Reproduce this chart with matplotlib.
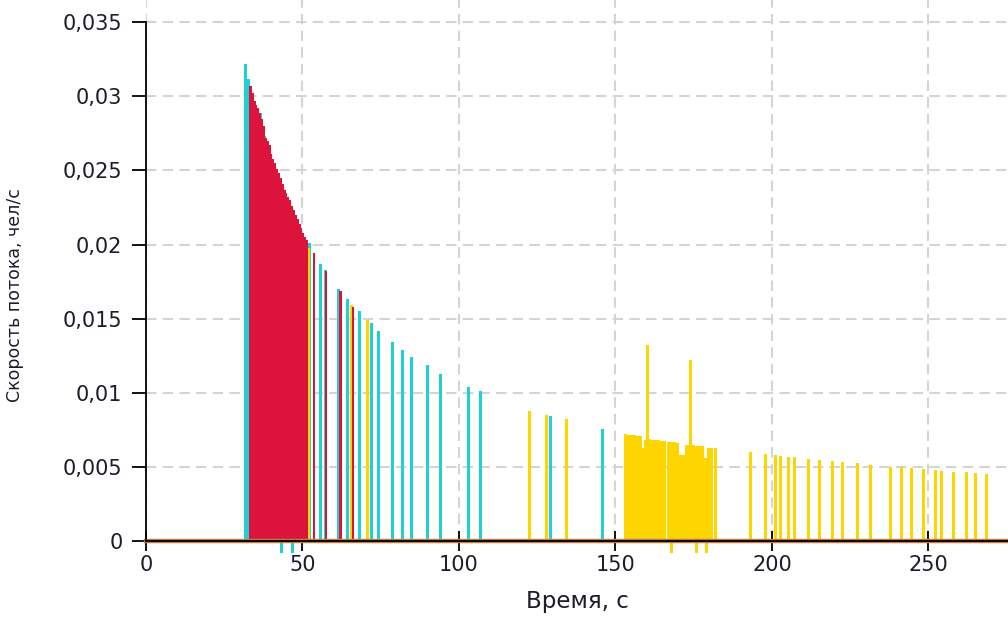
import matplotlib
matplotlib.use("Agg")
import matplotlib.pyplot as plt
from matplotlib.ticker import FixedLocator

# ---------------- data ----------------
cyan_t = [31.9, 32.8, 34.1, 36.6, 37.9, 39.9, 43.3, 46.8, 52.3, 55.6, 57.2, 61.6, 64.3,
          68.1, 72.0, 74.3, 78.7, 81.8, 84.9, 89.8, 94.2, 103.0, 106.8, 129.1, 145.8]
cyan_v = [0.0322, 0.0312, 0.0298, 0.0289, 0.0273, 0.0261, -0.0008, -0.0008, 0.0201, 0.0187,
          0.0183, 0.0170, 0.0163, 0.0155, 0.0147, 0.0142, 0.0134, 0.0129, 0.0124, 0.0119,
          0.0113, 0.0104, 0.0101, 0.0084, 0.00755]

red_t = [33.4, 34.0, 34.6, 35.2, 35.8, 36.4, 37.0, 37.6, 38.2, 38.8, 39.4, 40.0, 40.6,
         41.2, 41.8, 42.4, 43.0, 43.6, 44.2, 44.8, 45.4, 46.0, 46.6, 47.2, 47.8, 48.4,
         49.0, 49.6, 50.2, 50.8, 51.3, 53.7, 57.5, 62.1, 66.1]
red_v = [0.0307, 0.0302, 0.0297, 0.0294, 0.0292, 0.0289, 0.0285, 0.0280, 0.0272, 0.0270,
         0.0267, 0.0261, 0.0258, 0.0255, 0.0251, 0.0248, 0.0245, 0.0241, 0.0237, 0.0235,
         0.0232, 0.0230, 0.0226, 0.0223, 0.0220, 0.0217, 0.0214, 0.0211, 0.0208, 0.0205,
         0.0203, 0.0194, 0.0182, 0.0169, 0.0158]

yellow_t = [35.1, 51.8, 65.8, 70.9, 122.4, 128.0, 134.2,
            153.1, 154.1, 155.1, 156.1, 157.1, 158.1, 158.9, 159.6, 160.2, 160.9, 161.8,
            162.8, 163.8, 164.8, 165.8, 166.8, 167.8, 168.8, 169.8, 170.8, 171.8, 172.8,
            173.6, 174.1, 174.8, 175.8, 176.8, 177.8, 178.8, 179.8, 180.8, 181.8,
            167.8, 175.9, 179.2,
            193.1, 198.0, 201.0, 202.7, 205.2, 207.3, 211.8, 215.2, 219.3, 222.6, 227.4,
            231.6, 237.8, 241.4, 244.6, 248.5, 252.2, 254.1, 258.1, 262.1, 265.1, 268.5]
yellow_v = [0.0294, 0.0198, 0.0159, 0.0149, 0.0088, 0.0085, 0.0082,
            0.0072, 0.00718, 0.00716, 0.00713, 0.0071, 0.0071, 0.0063, 0.0068, 0.0132,
            0.00687, 0.00684, 0.00681, 0.00679, 0.00676, 0.00674, 0.00671, 0.00669,
            0.00666, 0.00664, 0.00581, 0.00581, 0.0065, 0.00648, 0.0122, 0.00646,
            0.00644, 0.00642, 0.0064, 0.00563, 0.0063, 0.00628, 0.00626,
            -0.0008, -0.0008, -0.0008,
            0.0060, 0.00587, 0.0058, 0.00576, 0.00567, 0.00564, 0.00553, 0.00546,
            0.00539, 0.00532, 0.00523, 0.00514, 0.00502, 0.00498, 0.00491, 0.00484,
            0.00477, 0.00475, 0.00468, 0.00463, 0.00459, 0.00454]

x_ticks = [0, 50, 100, 150, 200, 250]
y_ticks = [0, 0.005, 0.01, 0.015, 0.02, 0.025, 0.03, 0.035]
y_tick_labels = ["0", "0,005", "0,01", "0,015", "0,02", "0,025", "0,03", "0,035"]
x_label = "Время, с"
y_label = "Скорость потока, чел/с"

# ---------------- figure ----------------
plt.rcParams["font.family"] = ["DejaVu Sans"]
fig = plt.figure(figsize=(10.08, 6.17), dpi=100)
ax = fig.add_axes([146 / 1008, 76 / 617, 1 - 146 / 1008, 541 / 617])

CYAN = "#1fd1d6"
RED = "#dc143c"
GOLD = "#ffd500"

ax.bar(cyan_t, cyan_v, width=0.95, color=CYAN, linewidth=0, zorder=2, clip_on=False)
ax.bar(yellow_t, yellow_v, width=0.95, color=GOLD, linewidth=0, zorder=3, clip_on=False)
ax.bar(red_t, red_v, width=0.8, color=RED, linewidth=0, zorder=4, clip_on=False)

ax.axhline(0, color="#c07a45", lw=3.2, zorder=5, clip_on=False)

ax.set_xlim(0, 275.4)
ax.set_ylim(0, 0.0365)

ax.xaxis.set_major_locator(FixedLocator(x_ticks))
ax.yaxis.set_major_locator(FixedLocator(y_ticks))
ax.set_yticklabels(y_tick_labels)

ax.grid(True, color="#d4d4d4", linestyle=(0, (5, 3)), linewidth=1.5)
ax.set_axisbelow(True)

for s in ["top", "right"]:
    ax.spines[s].set_visible(False)
ax.spines["left"].set_bounds(0, 0.035)
ax.spines["left"].set_linewidth(1.3)
ax.spines["bottom"].set_linewidth(1.3)
ax.spines["bottom"].set_zorder(6)
ax.spines["left"].set_zorder(6)

ax.tick_params(axis="x", direction="inout", length=14, width=1.3, pad=3,
               labelsize=15, labelcolor="#1c1c2a")
ax.tick_params(axis="y", direction="out", length=10, width=1.3, pad=7,
               labelsize=15, labelcolor="#1c1c2a")

ax.set_xlabel(x_label, fontsize=16.5, color="#1c1c2a")
ax.xaxis.set_label_coords(0.5, -0.090)
ax.set_ylabel(y_label, fontsize=12.5, color="#1c1c2a")
ax.yaxis.set_label_coords(-0.142, 0.455)

fig.savefig("out.png", dpi=100)
